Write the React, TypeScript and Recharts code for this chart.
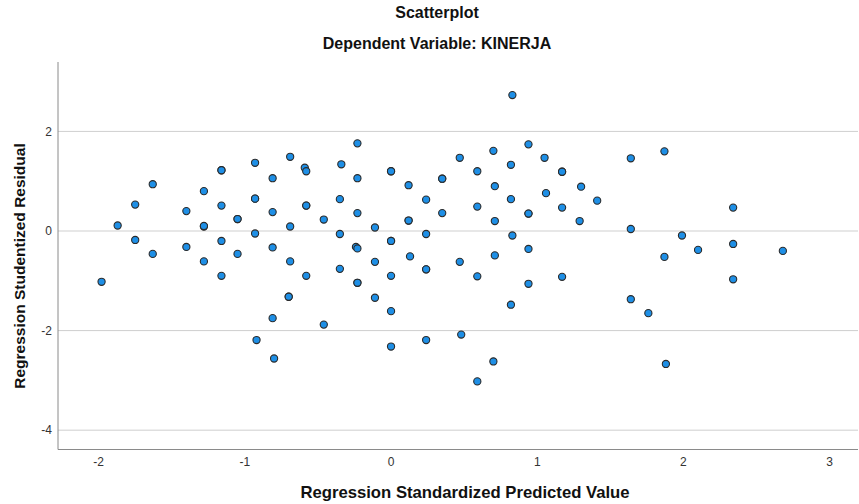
import React from 'react';
import { ScatterChart, Scatter, XAxis, YAxis, CartesianGrid } from 'recharts';

// standardized predicted value (x) vs studentized residual (y)
const predicted = [
  -1.63, -1.75, -1.87, -1.75, -1.63, -1.98, -1.4, -1.4, -1.28, -1.28, -1.28, -1.28,
  -1.16, -1.16, -1.16, -1.16, -1.16, -1.05, -1.05, -1.05, -0.93, -0.93, -0.93, -0.93,
  -0.81, -0.81, -0.81, -0.69, -0.69, -0.69, -0.59, -0.58, -0.58, -0.58, -0.58, -0.46,
  -0.34, -0.35, -0.35, -0.35, -0.23, -0.23, -0.23, -0.24, -0.23, -0.23, -0.23, -0.11,
  -0.11, -0.11, 0.0, 0.0, 0.0, 0.0, 0.0, 0.0, 0.12, 0.12, 0.12, 0.13, 0.24, 0.24,
  0.24, 0.24, 0.24, 0.35, 0.35, 0.35, 0.47, 0.47, 0.48, 0.59, 0.59, 0.59, 0.59, 0.7,
  0.71, 0.71, 0.71, 0.7, 0.83, 0.82, 0.82, 0.83, 0.82, 0.94, 0.94, 0.94, 0.94, 0.94,
  1.05, 1.06, 1.17, 1.17, 1.17, 1.17, 1.3, 1.29, 1.41, 1.64, 1.64, 1.64, 1.76, 1.87,
  1.87, 1.88, 1.99, 2.1, 2.34, 2.34, 2.34, 2.68,
  -0.7, -0.7, -0.81, -0.92, -0.8, -0.46, 0.0,
];

const residual = [
  0.94, 0.53, 0.11, -0.18, -0.46, -1.02, 0.4, -0.32, 0.8, 0.09, 0.1, -0.61,
  1.22, 1.22, 0.51, -0.2, -0.9, 0.24, 0.24, -0.46, 1.37, 0.65, 0.65, -0.05,
  1.06, 0.38, -0.33, 1.49, 0.09, -0.61, 1.27, 1.2, 0.51, 0.51, -0.9, 0.23,
  1.34, 0.64, -0.06, -0.76, 1.76, 1.06, 0.36, -0.32, -0.35, -1.04, -1.04, 0.07,
  -0.62, -1.34, 1.2, 1.2, -0.2, -0.2, -0.9, -1.61, 0.92, 0.21, 0.21, -0.51, 0.63,
  -0.06, -0.77, -0.77, -2.19, 1.05, 1.05, 0.36, -0.62, 1.47, -2.08, 1.2, 0.49,
  -0.91, -3.02, 1.61, 0.9, 0.2, -0.49, -2.62, 2.73, 1.33, 0.64, -0.09, -1.48, 1.74,
  0.35, 0.35, -0.36, -1.06, 1.47, 0.76, 1.19, 1.19, 0.47, -0.92, 0.89, 0.2, 0.61,
  1.46, 0.04, -1.37, -1.65, 1.6, -0.52, -2.67, -0.09, -0.38, 0.47, -0.26, -0.97,
  -0.4,
  -1.32, -1.32, -1.75, -2.19, -2.56, -1.88, -2.32,
];

const xTicks = [-2, -1, 0, 1, 2, 3];
const yTicks = [-4, -2, 0, 2];

const points = predicted.map((x, i) => ({ x, y: residual[i] }));

const font = '"Liberation Sans", Arial, sans-serif';

const Dot = (props: any) => {
  const { cx, cy } = props;
  if (cx == null || cy == null) return null;
  return <circle cx={cx} cy={cy} r={3.6} fill="#1e8fe6" stroke="#2b2b2b" strokeWidth={1.1} />;
};

export default function App() {
  return (
    <div style={{ position: 'absolute', left: 0, top: 0, width: 859, height: 504, background: '#fff', fontFamily: font }}>
      <div style={{ position: 'absolute', left: 0, width: 874, top: 5, lineHeight: '16px', textAlign: 'center', fontSize: 16, fontWeight: 'bold', color: '#111' }}>
        Scatterplot
      </div>
      <div style={{ position: 'absolute', left: 0, width: 874, top: 36, lineHeight: '16px', textAlign: 'center', fontSize: 16, fontWeight: 'bold', color: '#111' }}>
        Dependent Variable: KINERJA
      </div>

      <ScatterChart width={859} height={504} margin={{ top: 62, right: 1, bottom: 24.5, left: 18 }}>
        <CartesianGrid vertical={false} stroke="#cfcfcf" horizontalValues={yTicks} />
        <XAxis
          type="number"
          dataKey="x"
          domain={[-2.278, 3.194]}
          ticks={xTicks}
          allowDataOverflow
          height={30}
          tickLine={false}
          tickSize={0}
          tickMargin={8}
          axisLine={{ stroke: '#8a8a8a' }}
          tick={{ fill: '#333', fontSize: 12, fontFamily: font }}
        />
        <YAxis
          type="number"
          dataKey="y"
          domain={[-4.388, 3.394]}
          ticks={yTicks}
          allowDataOverflow
          width={40}
          tickLine={false}
          tickSize={0}
          tickMargin={6}
          axisLine={{ stroke: '#8a8a8a' }}
          tick={{ fill: '#333', fontSize: 12, fontFamily: font }}
        />
        <Scatter data={points} shape={<Dot />} isAnimationActive={false} />
      </ScatterChart>

      <div style={{ position: 'absolute', left: 58, width: 814, top: 484, lineHeight: '17px', textAlign: 'center', fontSize: 16.7, fontWeight: 'bold', color: '#111' }}>
        Regression Standardized Predicted Value
      </div>
      <div
        style={{
          position: 'absolute',
          left: 20,
          top: 266,
          transform: 'translate(-50%, -50%) rotate(-90deg)',
          whiteSpace: 'nowrap',
          lineHeight: '16px',
          fontSize: 15.5,
          fontWeight: 'bold',
          color: '#111',
        }}
      >
        Regression Studentized Residual
      </div>
    </div>
  );
}
